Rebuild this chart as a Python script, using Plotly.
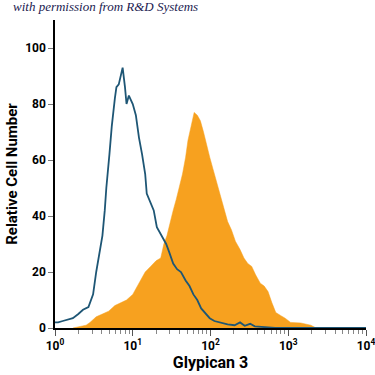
import plotly.graph_objects as go

# Isotype control (open histogram), log10 of fluorescence vs relative cell number
ctrl_log = [0.00, 0.04, 0.10, 0.17, 0.23, 0.30, 0.36, 0.43, 0.49, 0.53, 0.57, 0.61, 0.64, 0.66,
            0.70, 0.73, 0.77, 0.79, 0.82, 0.84, 0.87, 0.90, 0.92, 0.95, 0.97, 1.00, 1.04, 1.08,
            1.12, 1.16, 1.18, 1.21, 1.23, 1.27, 1.31, 1.35, 1.39, 1.43, 1.47, 1.52, 1.57, 1.62,
            1.68, 1.73, 1.78, 1.83, 1.88, 1.94, 1.99, 2.05, 2.12, 2.22, 2.31, 2.38, 2.44, 2.51,
            2.57, 2.70, 2.83, 4.00]
ctrl_val = [2, 2, 2.5, 3, 3.5, 5, 6.5, 7.5, 12, 20, 27, 33, 42, 50,
            62, 72, 82, 86, 87, 89, 93, 86, 80, 83, 82, 80, 76, 68,
            62, 55, 48, 46, 45, 42, 36, 34, 32, 30, 27, 23, 21, 20,
            17, 15, 12, 10, 7, 5, 3.5, 2.5, 2, 1.3, 1, 2, 0.8, 1.5,
            0.6, 0.3, 0, 0]

# Glypican 3 stained cells (filled histogram)
stain_log = [0.23, 0.30, 0.40, 0.45, 0.53, 0.61, 0.69, 0.77, 0.84, 0.92, 1.00, 1.08, 1.16, 1.23,
             1.30, 1.36, 1.40, 1.44, 1.48, 1.52, 1.56, 1.60, 1.64, 1.68, 1.71, 1.75, 1.79, 1.83,
             1.87, 1.91, 1.95, 1.99, 2.03, 2.08, 2.12, 2.17, 2.22, 2.27, 2.32, 2.38, 2.43, 2.48,
             2.53, 2.58, 2.64, 2.69, 2.74, 2.79, 2.84, 2.90, 2.96, 3.03, 3.16, 3.29, 3.36]
stain_val = [0, 0.5, 1, 2, 4, 5, 6, 8, 9, 10, 12, 16, 20, 22,
             24, 25, 30, 33, 38, 42, 46, 50, 55, 61, 67, 72, 77, 76,
             74, 70, 65, 61, 57, 52, 48, 44, 38, 35, 31, 28, 25, 23,
             22, 19, 16, 15, 13, 9, 5.5, 4.5, 3.5, 2, 1.8, 1, 0]

x_tickvals = [1, 10, 100, 1000, 10000]
x_ticktext = ["10<sup>0</sup>", "10<sup>1</sup>", "10<sup>2</sup>", "10<sup>3</sup>", "10<sup>4</sup>"]
x_minor = [m * d for d in (1, 10, 100, 1000) for m in range(2, 10)]
y_tickvals = [0, 20, 40, 60, 80, 100]

ctrl_x = [10 ** v for v in ctrl_log]
stain_x = [10 ** v for v in stain_log]

fig = go.Figure()
fig.add_trace(go.Scatter(x=stain_x, y=stain_val, mode="lines", line=dict(color="#F7A11F", width=0.5),
                         fill="tozeroy", fillcolor="#F7A11F", showlegend=False))
fig.add_trace(go.Scatter(x=ctrl_x, y=ctrl_val, mode="lines", line=dict(color="#1E5675", width=1.8),
                         showlegend=False))

font_bold = "Liberation Sans Narrow, Arial Narrow, Roboto, sans-serif"
fig.update_layout(
    width=375, height=375,
    margin=dict(l=55, r=9, t=20, b=47),
    plot_bgcolor="white", paper_bgcolor="white",
    xaxis=dict(type="log", range=[0, 4], showgrid=False, zeroline=False, automargin=False,
               showline=True, linecolor="black", linewidth=1.5,
               ticks="outside", ticklen=6, tickcolor="#555", tickwidth=1,
               tickvals=x_tickvals, ticktext=x_ticktext, ticklabeloverflow="allow",
               tickfont=dict(family=font_bold, size=12, color="black", weight="bold"),
               minor=dict(tickvals=x_minor, ticks="outside", ticklen=4, tickcolor="#888"),
               title=dict(text="Glypican 3", font=dict(family=font_bold, size=16, color="black", weight="bold"),
                          standoff=4)),
    yaxis=dict(range=[0, 110], showgrid=False, zeroline=False, automargin=False,
               showline=True, linecolor="black", linewidth=1.5,
               ticks="outside", ticklen=5, tickcolor="#777",
               tickvals=y_tickvals, ticklabeloverflow="allow",
               tickfont=dict(family=font_bold, size=12, color="black", weight="bold"),
               title=dict(text="Relative Cell Number", font=dict(family=font_bold, size=15, color="black", weight="bold"),
                          standoff=4)),
)
fig.add_annotation(text="<i>with permission from R&D Systems</i>", xref="paper", yref="paper",
                   x=-0.14, y=1.045, xanchor="left", yanchor="middle", showarrow=False,
                   font=dict(family="Liberation Serif, DejaVu Serif, serif", size=13, color="#1A1A50"))
fig.write_html("out.html", config={"displayModeBar": False},
               post_script="document.body.style.margin='0';document.body.style.padding='0';")
